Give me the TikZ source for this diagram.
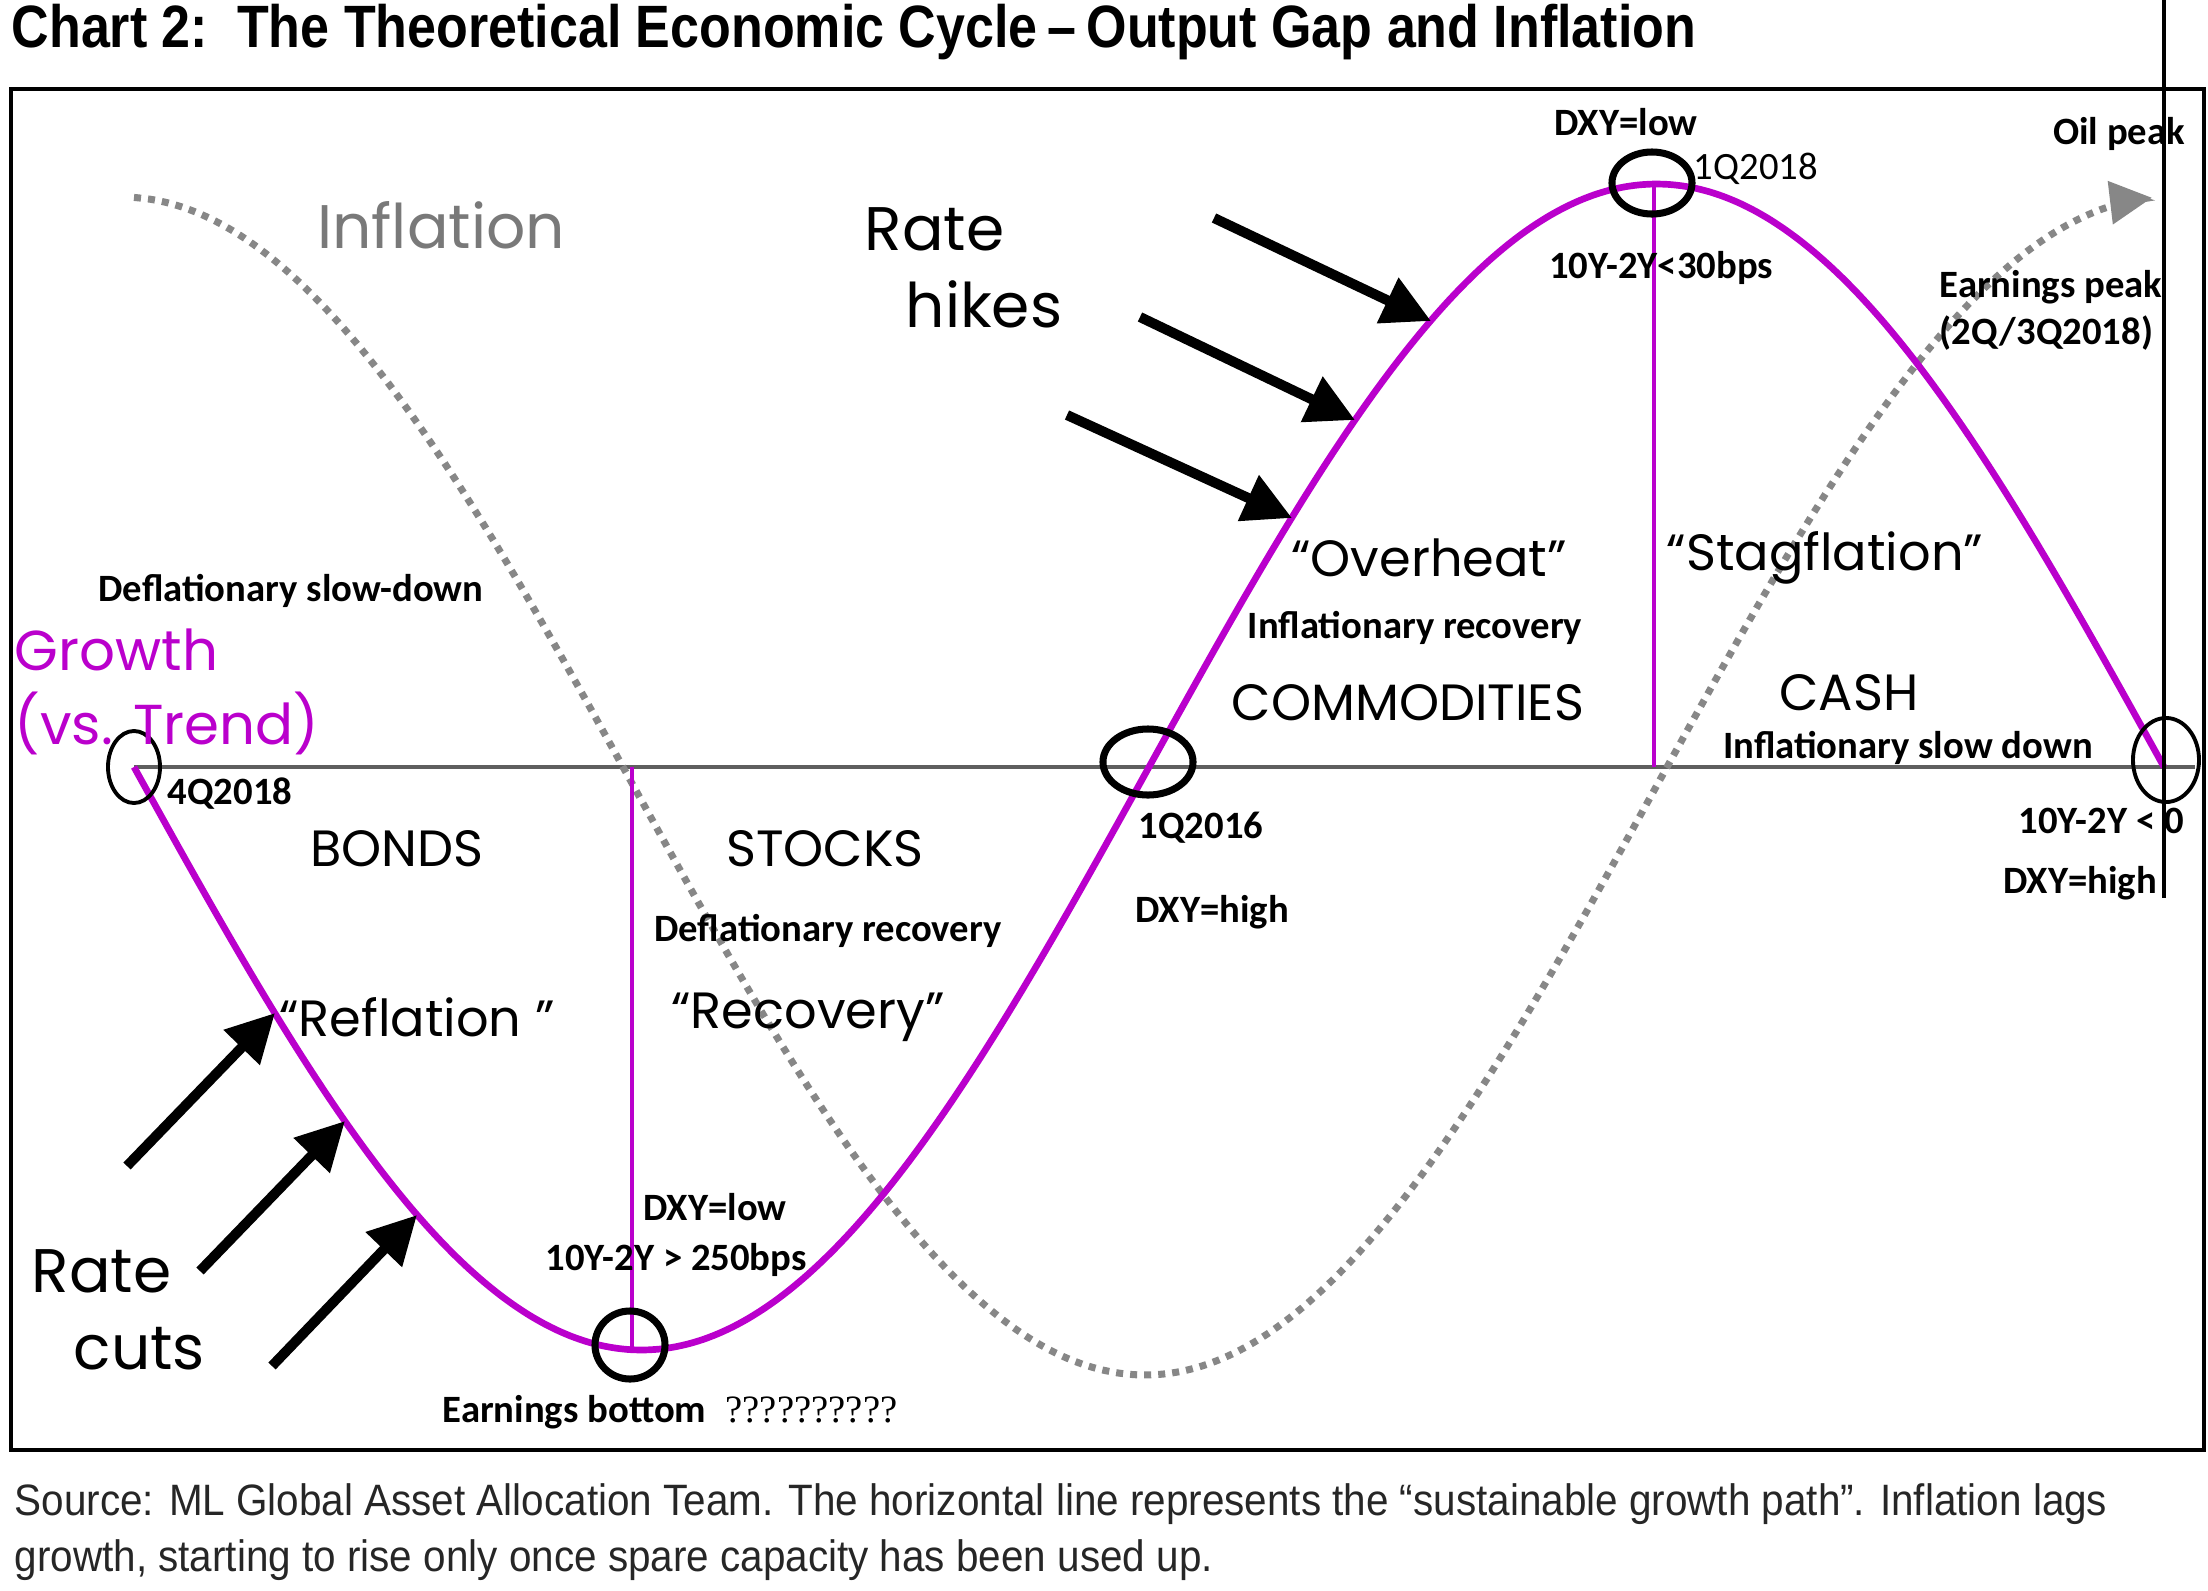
\documentclass[tikz,border=0pt]{standalone}
\usepackage{fontspec}
\setmainfont{Carlito}
\newfontfamily\comicfont{Poppins}
\newfontfamily\titlefont[FakeStretch=0.87]{Liberation Sans}
\newfontfamily\sourcefont[FakeStretch=0.92]{Liberation Sans}
\newfontfamily\queryfont{Liberation Serif}
\usepackage{tikz}
\usetikzlibrary{
    arrows.meta,
    positioning,
    shapes.geometric,
    calc
}
\definecolor{growthpurple}{RGB}{186,0,204}
\definecolor{inflgray}{RGB}{135,135,135}
\definecolor{axisgray}{RGB}{95,95,95}

\begin{document}
\begin{tikzpicture}[
    x=0.01cm, y=-0.01cm,
    note/.style={
        font=\bfseries\fontsize{11}{13.4}\selectfont,
        inner sep=0pt,
        align=left
    },
    phase/.style={
        font=\comicfont\fontsize{14.5}{17}\selectfont,
        inner sep=0pt
    },
    bigword/.style={
        font=\comicfont\fontsize{17.5}{22}\selectfont,
        inner sep=0pt,
        align=left
    },
    ring/.style={
        ellipse,
        draw,
        line width=2pt,
        inner sep=0pt
    },
    thinring/.style={
        ring,
        line width=1.1pt
    },
    growth/.style={
        growthpurple,
        line width=1.9pt
    },
    divider/.style={
        growthpurple,
        line width=1pt
    },
    inflation/.style={
        inflgray,
        line width=2pt,
        dash pattern=on 2pt off 2pt,
        -{Triangle[length=4.2mm, width=4.2mm]}
    },
    policy/.style={
        line width=1mm,
        -{Triangle[length=4.8mm, width=4.8mm]}
    },
    axisline/.style={
        axisgray,
        line width=0.9pt
    }
]
\useasboundingbox (0,0) rectangle (2208,1590);

% Title, frame and source
\node[anchor=west, inner sep=0pt, font=\titlefont\bfseries\fontsize{17}{20}\selectfont] (title) at (11,32)
    {Chart 2:\ \ The Theoretical Economic Cycle\,–\,Output Gap and Inflation};
\draw[line width=1.2pt] (11,89) rectangle (2204,1450);
\node[anchor=west, inner sep=0pt, align=left, text=black!85, font=\sourcefont\fontsize{12.5}{16}\selectfont] (source) at (14,1532)
    {Source: ML Global Asset Allocation Team. The horizontal line represents the “sustainable growth path”. Inflation lags\\
     growth, starting to rise only once spare capacity has been used up.};

% Trend line and curves
\coordinate (trend west) at (134,767);
\coordinate (trend east) at (2195,767);
\draw[axisline] (trend west) -- (trend east);
\draw[inflation] plot[domain=134:2152, samples=120, smooth] (\x, {786+589*cos(0.175953*(\x-1145))});
\draw[growth] plot[domain=134:2164, samples=140, smooth] (\x, {767+583*sin(0.177340*(\x-134))});

% Phase dividers
\coordinate (trough) at (632,1350);
\coordinate (trough base) at (632,767);
\coordinate (peak) at (1654,184);
\coordinate (peak base) at (1654,767);
\draw[divider] (trough base) -- (trough);
\draw[divider] (peak base) -- (peak);

% Circled turning points
\node[thinring, minimum width=0.52cm, minimum height=0.72cm] (ring 4q18) at (134,767) {};
\node[ring, minimum width=0.7cm, minimum height=0.68cm] (ring bottom) at (630,1345) {};
\node[ring, minimum width=0.9cm, minimum height=0.66cm] (ring 1q16) at (1148,762) {};
\node[ring, minimum width=0.8cm, minimum height=0.62cm] (ring 1q18) at (1652,183) {};
\node[thinring, minimum width=0.66cm, minimum height=0.84cm] (ring end) at (2166,760) {};

% Rate hikes
\coordinate (hike tail a) at (1214,218);
\coordinate (hike tip a) at (1431,321);
\coordinate (hike tail b) at (1140,317);
\coordinate (hike tip b) at (1355,420);
\coordinate (hike tail c) at (1067,415);
\coordinate (hike tip c) at (1292,518);
\draw[policy] (hike tail a) -- (hike tip a);
\draw[policy] (hike tail b) -- (hike tip b);
\draw[policy] (hike tail c) -- (hike tip c);
\node[bigword, anchor=west] (hikes) at (864,268) {Rate\\\hspace*{0.41cm}hikes};

% Rate cuts
\coordinate (cut tail a) at (127,1166);
\coordinate (cut tip a) at (275,1013);
\coordinate (cut tail b) at (200,1271);
\coordinate (cut tip b) at (345,1121);
\coordinate (cut tail c) at (272,1366);
\coordinate (cut tip c) at (417,1215);
\draw[policy] (cut tail a) -- (cut tip a);
\draw[policy] (cut tail b) -- (cut tip b);
\draw[policy] (cut tail c) -- (cut tip c);
\node[bigword, anchor=west] (cuts) at (31,1310) {Rate\\\hspace*{0.42cm}cuts};

% Curve names
\node[bigword, text=inflgray!90!black] (infl label) at (441,225) {Inflation};
\node[bigword, anchor=west, text=growthpurple, font=\comicfont\fontsize{16}{21}\selectfont] (growth label) at (14,692) {Growth\\(vs. Trend)};

% Phases
\node[phase] (bonds) at (397,849) {BONDS};
\node[phase] (reflation) at (417,1017) {“Reflation ”};
\node[phase] (stocks) at (825,849) {STOCKS};
\node[phase] (recovery) at (808,1017) {“Recovery”};
\node[phase] (overheat) at (1429,558) {“Overheat”};
\node[phase] (commodities) at (1408,703) {COMMODITIES};
\node[phase] (stagflation) at (1825,558) {“Stagflation”};
\node[phase] (cash) at (1849,693) {CASH};

% Notes
\node[note] (defl slow) at (291,591) {Deflationary slow-down};
\node[note] (q4 18) at (230,794) {4Q2018};
\node[note] (defl rec) at (828,931) {Deflationary recovery};
\node[note] (dxy low a) at (715,1207) {DXY=low};
\node[note] (spread a) at (676,1260) {10Y-2Y > 250bps};
\node[note, anchor=west] (earn bottom) at (442,1412) {Earnings bottom\hspace{0.5em}{\mdseries\queryfont ??????????}};
\node[note] (q1 16) at (1201,828) {1Q2016};
\node[note] (dxy high a) at (1212,912) {DXY=high};
\node[note] (infl rec) at (1415,628) {Inflationary recovery};
\node[note] (infl slow) at (1908,748) {Inflationary slow down};
\node[note] (spread c) at (2101,821) {10Y-2Y < 0};
\node[note] (dxy high b) at (2080,883) {DXY=high};
\node[note] (dxy low b) at (1626,122) {DXY=low};
\node[note, font=\mdseries\fontsize{11}{13.4}\selectfont] (q1 18) at (1756,169) {1Q2018};
\node[note] (spread b) at (1661,268) {10Y-2Y<30bps};
\node[note] (oil) at (2119,134) {Oil peak};
\node[note, anchor=west] (earn peak) at (1939,310) {Earnings peak\\(2Q/3Q2018)};

% Marker line
\coordinate (mark top) at (2164,0);
\coordinate (mark bottom) at (2164,898);
\draw[line width=1.2pt] (mark top) -- (mark bottom);

\end{tikzpicture}
\end{document}
